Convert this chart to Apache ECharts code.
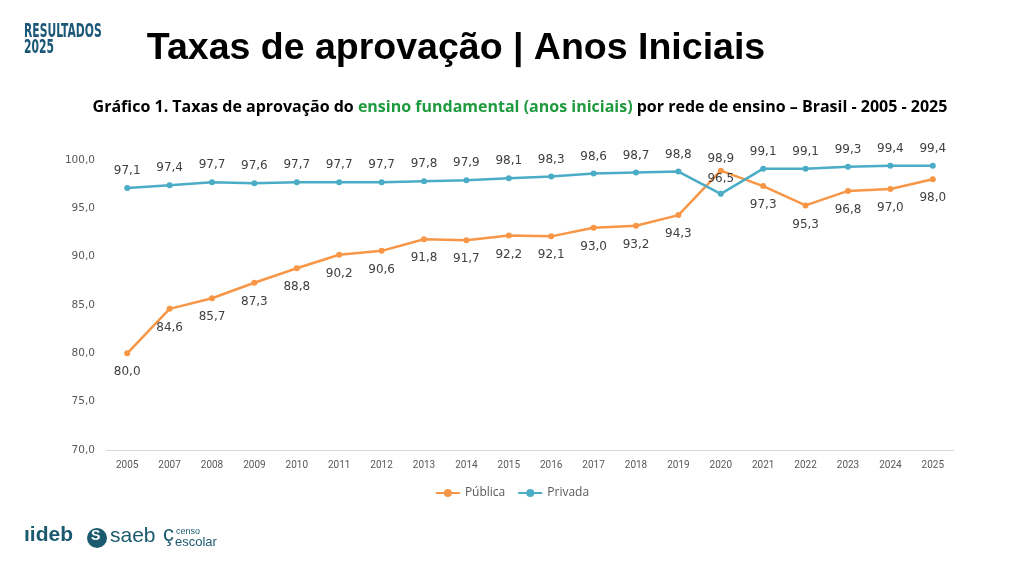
<!DOCTYPE html>
<html>
<head>
<meta charset="utf-8">
<script src="https://cdn.jsdelivr.net/npm/echarts@6/dist/echarts.min.js"></script>
<style>
html,body{margin:0;padding:0;background:#fff;}
#c{width:1024px;height:576px;}
</style>
</head>
<body>
<div id="c"></div>
<script>
const categories = ['2005','2007','2008','2009','2010','2011','2012','2013','2014','2015','2016','2017','2018','2019','2020','2021','2022','2023','2024','2025'];
const publica = [80.0,84.6,85.7,87.3,88.8,90.2,90.6,91.8,91.7,92.2,92.1,93.0,93.2,94.3,98.9,97.3,95.3,96.8,97.0,98.0];
const privada = [97.1,97.4,97.7,97.6,97.7,97.7,97.7,97.8,97.9,98.1,98.3,98.6,98.7,98.8,96.5,99.1,99.1,99.3,99.4,99.4];
const yTicks = {min:70, max:100, interval:5};

const fmt = v => Number(v).toFixed(1).replace('.', ',');
const labelFont = {fontFamily:'DejaVu Sans', fontSize:12, color:'#404040'};

const chart = echarts.init(document.getElementById('c'));
chart.setOption({
  backgroundColor:'#ffffff',
  animation:false,
  title:[
    {text:'Taxas de aprovação | Anos Iniciais', left:451, top:25, textAlign:'center',
     textStyle:{fontFamily:'Liberation Sans', fontWeight:'bold', fontSize:37.5, color:'#000'}},
    {text:'{b|Gráfico 1. Taxas de aprovação do }{g|ensino fundamental (anos iniciais)}{b| por rede de ensino – Brasil - 2005 - 2025}',
     left:515, top:94, textAlign:'center',
     textStyle:{rich:{
       b:{fontFamily:'Open Sans', fontWeight:'bold', fontSize:16, color:'#000'},
       g:{fontFamily:'Open Sans', fontWeight:'bold', fontSize:16, color:'#1f9a3e'}
     }}}
  ],
  graphic:[
    {type:'text', x:24, y:24, scaleX:0.63, style:{text:'RESULTADOS\n2025', fontFamily:'DejaVu Sans Condensed', fontWeight:'bold', fontSize:19, lineHeight:16, fill:'#1b5878'}},
    {type:'text', left:24, top:525, style:{text:'ıideb', fontFamily:'Liberation Sans', fontWeight:'bold', fontSize:21, fill:'#1b5a6e'}},
    {type:'circle', shape:{cx:97, cy:538, r:10}, style:{fill:'#1b5a6e'}},
    {type:'text', left:91, top:529, style:{text:'S', fontFamily:'Liberation Sans', fontWeight:'bold', fontSize:14, fill:'#fff'}},
    {type:'text', left:110, top:526, style:{text:'saeb', fontFamily:'Liberation Sans', fontSize:21, fill:'#1b5a6e'}},
    {type:'text', left:163, top:524, style:{text:'ç', fontFamily:'Liberation Sans', fontSize:22, fill:'#1b5a6e'}},
    {type:'text', left:176, top:527, style:{text:'censo', fontFamily:'Liberation Sans', fontSize:9, fill:'#1b5a6e'}},
    {type:'text', left:175, top:536, style:{text:'escolar', fontFamily:'Liberation Sans', fontSize:13, fill:'#1b5a6e'}}
  ],
  legend:{
    data:['Pública','Privada'], left:'center', top:482, itemGap:12, itemWidth:24, itemHeight:10,
    textStyle:{fontFamily:'Open Sans', fontSize:12, color:'#595959'}
  },
  grid:{left:106, right:70, top:160, bottom:126},
  xAxis:{
    type:'category', data:categories, boundaryGap:true,
    axisLine:{lineStyle:{color:'#d9d9d9', width:1}},
    axisTick:{show:false},
    axisLabel:{fontFamily:'Roboto', fontSize:10, color:'#595959', margin:10}
  },
  yAxis:{
    type:'value', min:yTicks.min, max:yTicks.max, interval:yTicks.interval,
    axisLine:{show:false}, axisTick:{show:false}, splitLine:{show:false},
    axisLabel:{fontFamily:'DejaVu Sans', fontSize:10.5, color:'#595959', margin:11, formatter:v=>fmt(v)}
  },
  series:[
    {name:'Pública', type:'line', data:publica.map((v,i)=> i===14 ? {value:v, label:{position:'top', distance:3}} : v),
     color:'#f79646', symbol:'circle', symbolSize:6, lineStyle:{width:2.5, color:'#f79646'},
     itemStyle:{color:'#f79646'},
     label:{show:true, position:'bottom', distance:10, formatter:p=>fmt(p.value), ...labelFont}},
    {name:'Privada', type:'line', data:privada.map((v,i)=> i===14 ? {value:v, label:{position:'top', distance:6}} : v),
     color:'#4bacc6', symbol:'circle', symbolSize:6, lineStyle:{width:2.5, color:'#4bacc6'},
     itemStyle:{color:'#4bacc6'},
     label:{show:true, position:'top', distance:8, formatter:p=>fmt(p.value), ...labelFont}}
  ]
});
</script>
</body>
</html>
